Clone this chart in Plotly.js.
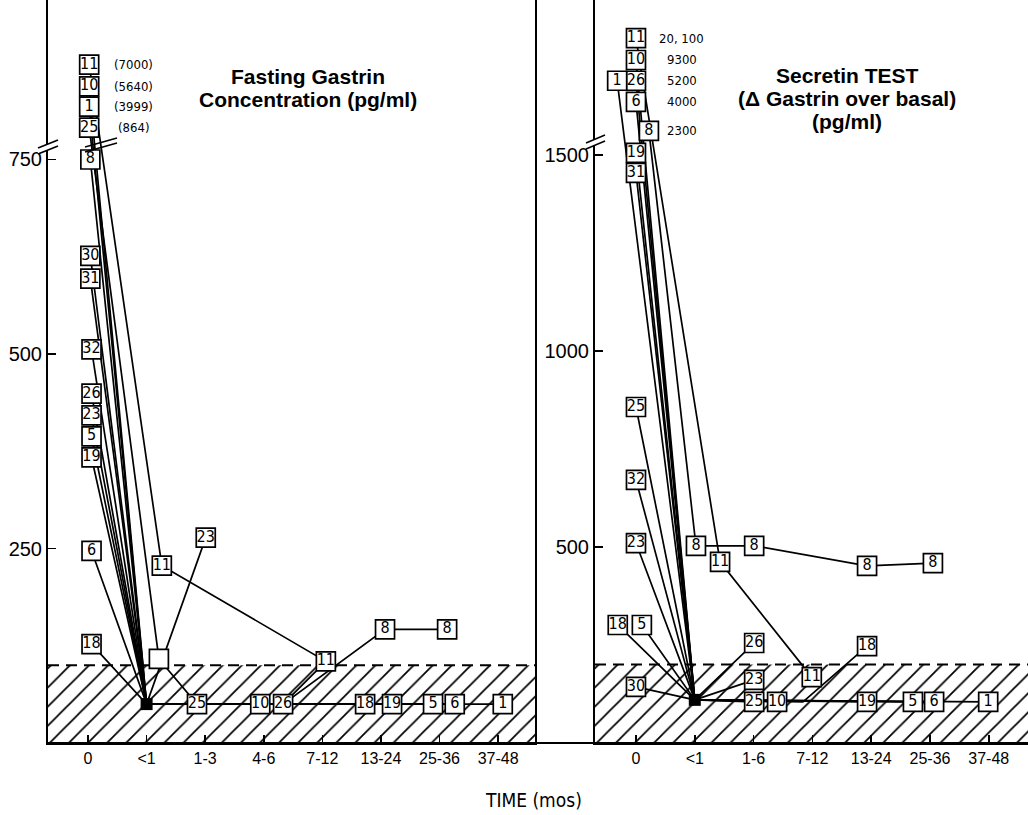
<!DOCTYPE html>
<html><head><meta charset="utf-8">
<script src="https://cdn.plot.ly/plotly-3.0.1.min.js"></script>
<style>html,body{margin:0;padding:0;background:#fff}#chart{width:1028px;height:815px}</style>
</head><body><div id="chart"></div>
<script>
// ---------- DATA ----------
const fgCats = ['0','<1','1-3','4-6','7-12','13-24','25-36','37-48'];
const stCats = ['0','<1','1-6','7-12','13-24','25-36','37-48'];

// Fasting gastrin (pg/ml). x = category index (small offsets as in the figure);
// values above the axis break are plotted positions, true values in fgBreakVals.
const fgIds = ['11','10','1','25','8','30','31','32','26','23','5','19','6','18'];
const fgX = [
  [0.02,1.26,4.06,3.33],
  [0.02,1,2.94],
  [0.02,1,7.08],
  [0.02,1.21,1.86],
  [0.04,1,3.33,5.07,6.13],
  [0.04,1],
  [0.04,1],
  [0.06,1],
  [0.06,1,3.33],
  [0.06,1,2.01],
  [0.06,1,5.89],
  [0.06,1,5.19],
  [0.06,1,6.26],
  [0.06,1,4.73]
];
const fgY = [
  [872,228,105,50],
  [844,50,50],
  [818,50,50],
  [791,108,50],
  [750,50,50,146,146],
  [626,50],
  [597,50],
  [506,50],
  [449,50,50],
  [421,50,264],
  [394,50,50],
  [367,50,50],
  [247,50,50],
  [127,50,50]
];
// 1 = numbered box, 2 = empty box, 0 = no box
const fgBox = [
  [1,1,1,0],[1,0,1],[1,0,1],[1,2,1],[1,0,0,1,1],[1,0],[1,0],[1,0],
  [1,0,1],[1,0,1],[1,0,1],[1,0,1],[1,0,1],[1,0,1]
];
const fgBreakY = [872,844,818,791];
const fgBreakVals = ['(7000)','(5640)','(3999)','(864)'];
const fgNormal = 100;
const fgTitle = ['Fasting Gastrin','Concentration (pg/ml)'];

// Secretin test (delta gastrin over basal, pg/ml)
const stIds = ['11','10','26','1','6','8','19','31','25','32','23','18','5','30'];
const stX = [
  [0,1.43,2.99],
  [0,1,2.40],
  [0,1,2.01],
  [-0.32,1,5.99],
  [0,1,5.07],
  [0.22,1.02,2.01,3.93,5.05],
  [0,1,3.93],
  [0,1],
  [0,1,2.01],
  [0,1],
  [0,1,2.01],
  [-0.31,1,2.84,3.93],
  [0.10,1,4.71],
  [0,1]
];
const stY = [
  [1798,462,168],
  [1742,110,105],
  [1689,110,255],
  [1689,110,105],
  [1635,110,105],
  [1561,503,503,452,459],
  [1505,110,105],
  [1454,110],
  [857,110,105],
  [671,110],
  [510,110,161],
  [301,110,105,247],
  [301,110,105],
  [143,110]
];
const stBox = [
  [1,1,1],[1,0,1],[1,0,1],[1,0,1],[1,0,1],[1,1,1,1,1],[1,0,1],[1,0],
  [1,0,1],[1,0],[1,0,1],[1,0,0,1],[1,0,1],[1,0]
];
const stBreakY = [1798,1742,1689,1635,1561];
const stBreakVals = ['20, 100','9300','5200','4000','2300'];
const stNormal = 200;
const stTitle = ['Secretin TEST','(Δ Gastrin over basal)','(pg/ml)'];
const xTitle = 'TIME (mos)';

// ---------- STYLE / BUILD ----------
const W = 1028, PH = 743;
const NARROW = "'Liberation Sans Narrow','DejaVu Sans Condensed','Liberation Sans',sans-serif";
const SANS = "'Liberation Sans',Arial,sans-serif";
const pX = p => p / W;
const pY = p => (PH - p) / PH;

const fgRange = [-0.683, 7.63];
const stRange = [-0.697, 6.667];

const traces = [];
function hatch(range, top, xa, ya){
  traces.push({x:[range[0],range[1]], y:[top,top], xaxis:xa, yaxis:ya, mode:'lines',
    fill:'tozeroy', fillcolor:'rgba(0,0,0,0)',
    fillpattern:{shape:'/', size:13.5, solidity:0.13, fgcolor:'#000', bgcolor:'#fff'},
    line:{color:'#000', width:2, dash:'11px,7px'}, hoverinfo:'skip'});
}
hatch(fgRange, fgNormal, 'x', 'y');
hatch(stRange, stNormal, 'x2', 'y2');

function lines(ids, X, Y, xa, ya){
  ids.forEach((id,i)=>{
    traces.push({x:X[i], y:Y[i], xaxis:xa, yaxis:ya, mode:'lines',
      line:{color:'#000', width:1.7}, hoverinfo:'skip'});
  });
}
lines(fgIds, fgX, fgY, 'x', 'y');
lines(stIds, stX, stY, 'x2', 'y2');

traces.push({x:[1], y:[50], xaxis:'x', yaxis:'y', mode:'markers',
  marker:{symbol:'square', size:12, color:'#000'}, hoverinfo:'skip'});
traces.push({x:[1], y:[110], xaxis:'x2', yaxis:'y2', mode:'markers',
  marker:{symbol:'square', size:12, color:'#000'}, hoverinfo:'skip'});

function boxes(ids, X, Y, B, xa, ya){
  const bx=[], by=[], bt=[];
  ids.forEach((id,i)=>{
    B[i].forEach((b,j)=>{
      if(b>0){ bx.push(X[i][j]); by.push(Y[i][j]); bt.push(b===1?id:''); }
    });
  });
  traces.push({x:bx, y:by, text:bt, xaxis:xa, yaxis:ya, mode:'markers+text',
    textposition:'middle center',
    textfont:{family:NARROW, size:16, color:'#000'},
    marker:{symbol:'square', size:19, color:'#fff', line:{color:'#000', width:1.7}},
    hoverinfo:'skip', cliponaxis:false});
}
boxes(fgIds, fgX, fgY, fgBox, 'x', 'y');
boxes(stIds, stX, stY, stBox, 'x2', 'y2');

const annotations = [];
fgBreakVals.forEach((t,i)=>annotations.push({xref:'x', yref:'y', x:0.77, y:fgBreakY[i], text:t,
  showarrow:false, xanchor:'center', yanchor:'middle', font:{family:NARROW, size:13, color:'#000'}}));
stBreakVals.forEach((t,i)=>annotations.push({xref:'x2', yref:'y2', x:0.78, y:stBreakY[i], text:t,
  showarrow:false, xanchor:'center', yanchor:'middle', font:{family:NARROW, size:13, color:'#000'}}));

const titleFont = {family:SANS, size:21, color:'#000', weight:'bold'};
fgTitle.forEach((t,i)=>annotations.push({xref:'paper', yref:'paper', x:pX(308), y:pY(76 + i*23), text:t,
  showarrow:false, xanchor:'center', yanchor:'middle', font:titleFont}));
stTitle.forEach((t,i)=>annotations.push({xref:'paper', yref:'paper', x:pX(847), y:pY(75 + i*23.5), text:t,
  showarrow:false, xanchor:'center', yanchor:'middle', font:titleFont}));
annotations.push({xref:'paper', yref:'paper', x:pX(533), y:pY(800), text:xTitle,
  showarrow:false, xanchor:'center', yanchor:'middle', font:{family:NARROW, size:19, color:'#000'}});

const shapes = [];
shapes.push({type:'line', xref:'paper', yref:'paper', x0:pX(47), x1:1, y0:0, y1:0, line:{color:'#000', width:2}});
function brk(x0,x1,yA,yB,dy,whiteFill){
  if(whiteFill){
    shapes.push({type:'path', xref:'paper', yref:'paper',
      path:`M${pX(x0)},${pY(yA)} L${pX(x1)},${pY(yB)} L${pX(x1)},${pY(yB+dy)} L${pX(x0)},${pY(yA+dy)} Z`,
      fillcolor:'#fff', line:{width:0}});
  }
  shapes.push({type:'line', xref:'paper', yref:'paper', x0:pX(x0), y0:pY(yA), x1:pX(x1), y1:pY(yB), line:{color:'#000', width:1.6}});
  shapes.push({type:'line', xref:'paper', yref:'paper', x0:pX(x0), y0:pY(yA+dy), x1:pX(x1), y1:pY(yB+dy), line:{color:'#000', width:1.6}});
}
brk(38,58,148,140,6,true);
brk(85,117,147,138,5,false);
brk(586,605,143,135,6,true);

const axisCommon = {showgrid:false, zeroline:false, showline:true, linecolor:'#000', linewidth:2,
  ticks:'inside', tickcolor:'#000', tickwidth:1.6, ticklen:8};
const xTickFont = {family:SANS, size:16, color:'#000'};
const yTickFont = {family:SANS, size:20, color:'#000'};

const layout = {
  width:1028, height:815, margin:{l:0, r:0, t:0, b:72},
  paper_bgcolor:'#fff', plot_bgcolor:'#fff', showlegend:false,
  xaxis:Object.assign({}, axisCommon, {domain:[pX(48), pX(535)], range:fgRange,
    tickvals:fgCats.map((c,i)=>i), ticktext:fgCats, tickfont:xTickFont, anchor:'y'}),
  yaxis:Object.assign({}, axisCommon, {range:[0,955], tickvals:[250,500,750], mirror:true,
    tickfont:yTickFont, anchor:'x'}),
  xaxis2:Object.assign({}, axisCommon, {domain:[pX(595), 1], range:stRange,
    tickvals:stCats.map((c,i)=>i), ticktext:stCats, tickfont:xTickFont, anchor:'y2'}),
  yaxis2:Object.assign({}, axisCommon, {range:[0,1895], tickvals:[500,1000,1500],
    tickfont:yTickFont, anchor:'x2'}),
  annotations, shapes
};

Plotly.newPlot('chart', traces, layout, {staticPlot:true, displayModeBar:false});
</script>
</body></html>
